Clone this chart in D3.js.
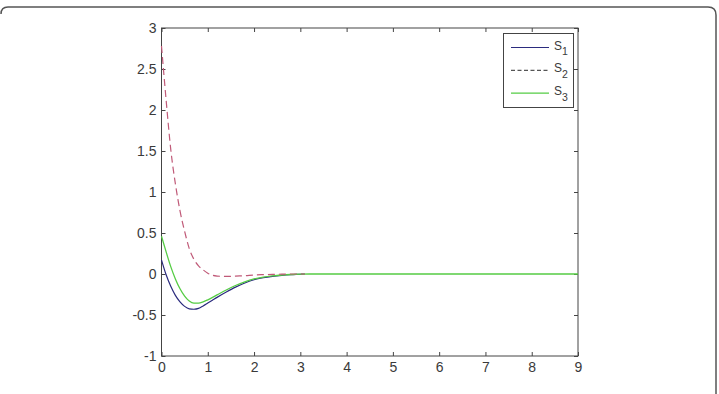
<!DOCTYPE html>
<html>
<head>
<meta charset="utf-8">
<script src="https://cdn.jsdelivr.net/npm/d3@7"></script>
<style>
  body { margin: 0; background: #fff; }
  svg { display: block; font-family: "Liberation Sans", Arial, sans-serif; }
</style>
</head>
<body>
<svg id="chart" width="719" height="394"></svg>
<script>
// Data
const tS12 = [0, 0.1, 0.2, 0.3, 0.4, 0.5, 0.6, 0.7, 0.8, 0.9, 1.0, 1.1, 1.2, 1.4, 1.6, 1.8, 2.0, 2.2, 2.4, 2.6, 2.8, 3.0, 3.1];
const s1 = [0.17, -0.01, -0.15, -0.26, -0.34, -0.395, -0.425, -0.43, -0.42, -0.39, -0.355, -0.32, -0.285, -0.22, -0.16, -0.11, -0.07, -0.045, -0.028, -0.016, -0.008, -0.003, 0];
const s2 = [2.78, 2.12, 1.52, 1.10, 0.77, 0.52, 0.31, 0.18, 0.10, 0.05, 0.01, -0.015, -0.025, -0.03, -0.025, -0.02, -0.012, -0.008, -0.005, -0.002, 0, 0, 0];
const tS3 = [0, 0.1, 0.2, 0.3, 0.4, 0.5, 0.6, 0.7, 0.8, 0.9, 1.0, 1.2, 1.4, 1.6, 1.8, 2.0, 2.2, 2.4, 2.6, 2.8, 3.0, 3.2, 9];
const s3 = [0.46, 0.27, 0.09, -0.06, -0.18, -0.27, -0.33, -0.355, -0.355, -0.34, -0.315, -0.255, -0.195, -0.14, -0.095, -0.06, -0.037, -0.022, -0.012, -0.006, -0.002, 0, 0];

const xTicks = [0, 1, 2, 3, 4, 5, 6, 7, 8, 9];
const yTicks = [-1, -0.5, 0, 0.5, 1, 1.5, 2, 2.5, 3];
const seriesNames = ["S1", "S2", "S3"];

// Layout
const plotLeft = 161.5, plotRight = 578, plotTop = 28, plotBottom = 356;
const axisColor = "#444";
const textColor = "#3a3a3a";

const svg = d3.select("#chart");

// Outer frame (rounded top corners, only partly visible)
svg.append("path")
    .attr("d", "M1,14 Q1,7 8,7 H708 Q716,7 716,15 V394")
    .attr("fill", "none")
    .attr("stroke", "#555")
    .attr("stroke-width", 1.5);

const x = d3.scaleLinear().domain([0, 9]).range([plotLeft, plotRight]);
const y = d3.scaleLinear().domain([-1, 3]).range([plotBottom, plotTop]);

// plain hyphen minus, like the original
const fmt = d => String(d);

// Axes with inward ticks on all four sides
const tickLen = 4;
svg.append("g")
    .attr("transform", `translate(0,${plotBottom})`)
    .call(d3.axisBottom(x).tickValues(xTicks).tickSizeInner(-tickLen).tickSizeOuter(0).tickPadding(6).tickFormat(fmt))
    .call(g => g.select(".domain").remove());
svg.append("g")
    .attr("transform", `translate(0,${plotTop})`)
    .call(d3.axisTop(x).tickValues(xTicks).tickSizeInner(-tickLen).tickSizeOuter(0).tickFormat(""))
    .call(g => g.select(".domain").remove());
svg.append("g")
    .attr("transform", `translate(${plotLeft},0)`)
    .call(d3.axisLeft(y).tickValues(yTicks).tickSizeInner(-tickLen).tickSizeOuter(0).tickPadding(5).tickFormat(fmt))
    .call(g => g.select(".domain").remove());
svg.append("g")
    .attr("transform", `translate(${plotRight},0)`)
    .call(d3.axisRight(y).tickValues(yTicks).tickSizeInner(-tickLen).tickSizeOuter(0).tickFormat(""))
    .call(g => g.select(".domain").remove());

svg.selectAll(".tick line").attr("stroke", axisColor);
svg.selectAll(".tick text")
    .attr("fill", textColor)
    .attr("font-size", 14)
    .attr("font-family", "Liberation Sans, Arial, sans-serif");

svg.append("rect")
    .attr("x", plotLeft).attr("y", plotTop)
    .attr("width", plotRight - plotLeft).attr("height", plotBottom - plotTop)
    .attr("fill", "none")
    .attr("stroke", axisColor)
    .attr("stroke-width", 1);

// Lines
const line = d3.line()
    .x(d => x(d[0]))
    .y(d => y(d[1]))
    .curve(d3.curveMonotoneX);

const zip = (ts, vs) => ts.map((t, i) => [t, vs[i]]);

svg.append("path")
    .datum(zip(tS12, s1))
    .attr("fill", "none")
    .attr("stroke", "#2b2b7e")
    .attr("stroke-width", 1.2)
    .attr("d", line);

svg.append("path")
    .datum(zip(tS3, s3))
    .attr("fill", "none")
    .attr("stroke", "#55cc44")
    .attr("stroke-width", 1.3)
    .attr("d", line);

svg.append("path")
    .datum(zip(tS12, s2))
    .attr("fill", "none")
    .attr("stroke", "#c05a78")
    .attr("stroke-width", 1.2)
    .attr("stroke-dasharray", "7,4")
    .attr("d", line);

// Legend
const legend = svg.append("g");
legend.append("rect")
    .attr("x", 503.5).attr("y", 33.5)
    .attr("width", 70).attr("height", 74)
    .attr("fill", "#fff")
    .attr("stroke", axisColor);

const legendStyles = [
    { color: "#2b2b7e", dash: null },
    { color: "#555", dash: "4,2.5" },
    { color: "#55cc44", dash: null }
];
seriesNames.forEach((name, i) => {
    const ly = 47.5 + i * 22.8;
    legend.append("line")
        .attr("x1", 511).attr("x2", 549)
        .attr("y1", ly).attr("y2", ly)
        .attr("stroke", legendStyles[i].color)
        .attr("stroke-width", 1.2)
        .attr("stroke-dasharray", legendStyles[i].dash);
    const txt = legend.append("text")
        .attr("x", 554).attr("y", ly + 2)
        .attr("fill", textColor)
        .attr("font-size", 12);
    txt.append("tspan").text(name[0]);
    txt.append("tspan").attr("dy", 5.5).attr("font-size", 10.5).text(name.slice(1));
});
</script>
</body>
</html>
